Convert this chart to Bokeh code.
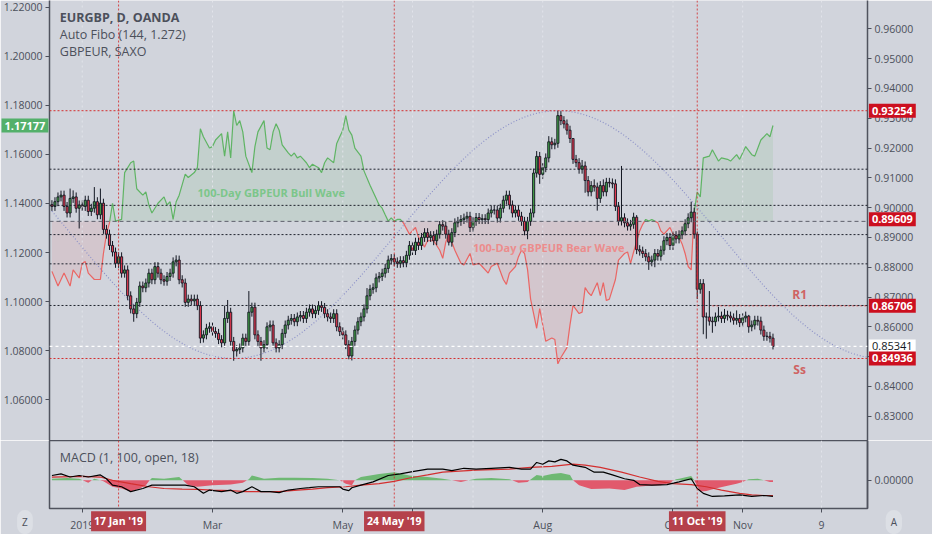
import numpy as np
import pandas as pd
from bokeh.plotting import figure
from bokeh.models import (Range1d, LinearAxis, FixedTicker, NumeralTickFormatter,
                          Span, Label, ColumnDataSource)
from bokeh.layouts import column
from bokeh.embed import file_html
from bokeh.resources import INLINE

# ---------------- data ----------------
FIRST_DAY = "2018-12-18"
CAL_END = "2019-12-31"

# EURGBP daily closes, one per business day from FIRST_DAY
CLOSE = [
    0.9004, 0.9020, 0.9036, 0.9042, 0.9004, 0.8982, 0.9031, 0.9036, 0.8998, 0.9009,
    0.9004, 0.9025, 0.8987, 0.8998, 0.9020, 0.8976, 0.9015, 0.8927, 0.8911, 0.8873,
    0.8851, 0.8813, 0.8835, 0.8780, 0.8791, 0.8704, 0.8660, 0.8644, 0.8682, 0.8737,
    0.8731, 0.8747, 0.8780, 0.8758, 0.8802, 0.8780, 0.8758, 0.8753, 0.8769, 0.8780,
    0.8818, 0.8824, 0.8758, 0.8747, 0.8682, 0.8693, 0.8687, 0.8693, 0.8671, 0.8562,
    0.8573, 0.8595, 0.8600, 0.8584, 0.8578, 0.8557, 0.8546, 0.8628, 0.8649, 0.8551,
    0.8519, 0.8524, 0.8529, 0.8562, 0.8551, 0.8649, 0.8666, 0.8573, 0.8551, 0.8529,
    0.8540, 0.8600, 0.8606, 0.8546, 0.8529, 0.8540, 0.8578, 0.8606, 0.8622, 0.8628,
    0.8617, 0.8633, 0.8638, 0.8628, 0.8649, 0.8660, 0.8644, 0.8655, 0.8671, 0.8665,
    0.8644, 0.8633, 0.8628, 0.8644, 0.8600, 0.8584, 0.8573, 0.8540, 0.8502, 0.8551,
    0.8589, 0.8617, 0.8633, 0.8660, 0.8704, 0.8726, 0.8731, 0.8764, 0.8769, 0.8780,
    0.8796, 0.8824, 0.8829, 0.8818, 0.8813, 0.8822, 0.8815, 0.8840, 0.8873, 0.8856,
    0.8884, 0.8873, 0.8900, 0.8916, 0.8900, 0.8906, 0.8889, 0.8911, 0.8943, 0.8938,
    0.8911, 0.8884, 0.8916, 0.8949, 0.8954, 0.8960, 0.8965, 0.8971, 0.8933, 0.8954,
    0.8967, 0.8960, 0.8963, 0.8960, 0.8982, 0.8992, 0.8992, 0.8965, 0.8998, 0.9025,
    0.9042, 0.9009, 0.8982, 0.8992, 0.8971, 0.8954, 0.8922, 0.8954, 0.8982, 0.9116,
    0.9172, 0.9112, 0.9134, 0.9167, 0.9221, 0.9211, 0.9216, 0.9309, 0.9292, 0.9281,
    0.9260, 0.9232, 0.9162, 0.9151, 0.9129, 0.9140, 0.9091, 0.9053, 0.9074, 0.9069,
    0.9031, 0.9074, 0.9053, 0.9085, 0.9083, 0.9080, 0.9004, 0.8955, 0.8966, 0.8949,
    0.8938, 0.8944, 0.8968, 0.8859, 0.8854, 0.8846, 0.8835, 0.8818, 0.8824, 0.8846,
    0.8837, 0.8857, 0.8889, 0.8900, 0.8873, 0.8906, 0.8895, 0.8909, 0.8922, 0.8946,
    0.8966, 0.8985, 0.8911, 0.8726, 0.8745, 0.8633, 0.8633, 0.8619, 0.8617, 0.8633,
    0.8636, 0.8628, 0.8639, 0.8636, 0.8630, 0.8622, 0.8628, 0.8614, 0.8630, 0.8636,
    0.8600, 0.8606, 0.8622, 0.8619, 0.8589, 0.8568, 0.8568, 0.8562, 0.8534,
]
FIRST_OPEN = 0.9010
WICK = 0.0015  # typical wick length where no long wick is visible
HIGH_OVERRIDE = {6: 0.9064, 7: 0.9058, 14: 0.9069, 16: 0.9064, 41: 0.8840, 57: 0.8671,
                 58: 0.8690, 65: 0.8720, 104: 0.8730, 128: 0.8955, 160: 0.9190,
                 164: 0.9240, 167: 0.9325, 172: 0.9185, 175: 0.9160, 179: 0.9095,
                 182: 0.9095, 188: 0.9140, 193: 0.8975, 211: 0.9020, 213: 0.8920,
                 215: 0.8760, 217: 0.8720, 220: 0.8667, 222: 0.8660, 226: 0.8655,
                 230: 0.8640}
LOW_OVERRIDE = {9: 0.8930, 27: 0.8617, 49: 0.8545, 60: 0.8486, 61: 0.8500, 69: 0.8486,
                98: 0.8491, 131: 0.8873, 157: 0.8894, 161: 0.9080, 176: 0.9050,
                180: 0.8990, 197: 0.8791, 199: 0.8800, 213: 0.8693, 215: 0.8575,
                216: 0.8560, 218: 0.8580, 230: 0.8580, 238: 0.8524}

# 100-day GBPEUR wave (left scale): (bar, value)
GBPEUR = [
    (0, 1.1123), (2, 1.1063), (4, 1.1116), (6, 1.1063), (7, 1.1129), (9, 1.1096),
    (10, 1.1156), (11, 1.1163), (12, 1.1116), (14, 1.1090), (16, 1.1090), (17, 1.1196),
    (18, 1.1275), (19, 1.1321), (20, 1.1401), (21, 1.1328), (23, 1.1335), (24, 1.1526),
    (26, 1.1566), (27, 1.1573), (28, 1.1460), (30, 1.1434), (31, 1.1447), (32, 1.1394),
    (33, 1.1361), (35, 1.1401), (37, 1.1427), (38, 1.1394), (39, 1.1407), (40, 1.1335),
    (41, 1.1407), (42, 1.1434), (44, 1.1520), (45, 1.1506), (47, 1.1526), (48, 1.1546),
    (49, 1.1705), (50, 1.1672), (52, 1.1626), (53, 1.1632), (54, 1.1659), (56, 1.1685),
    (57, 1.1593), (58, 1.1692), (59, 1.1586), (60, 1.1778), (61, 1.1718), (62, 1.1738),
    (63, 1.1692), (64, 1.1593), (66, 1.1526), (67, 1.1632), (68, 1.1692), (70, 1.1738),
    (71, 1.1626), (72, 1.1619), (73, 1.1692), (74, 1.1725), (75, 1.1699), (76, 1.1639),
    (78, 1.1606), (79, 1.1593), (80, 1.1606), (81, 1.1586), (82, 1.1593), (83, 1.1580),
    (84, 1.1566), (85, 1.1546), (86, 1.1560), (88, 1.1546), (89, 1.1526), (90, 1.1566),
    (91, 1.1586), (93, 1.1566), (94, 1.1645), (95, 1.1672), (96, 1.1699), (97, 1.1758),
    (98, 1.1699), (99, 1.1679), (100, 1.1626), (102, 1.1593), (103, 1.1533), (105, 1.1474),
    (107, 1.1421), (108, 1.1394), (109, 1.1381), (110, 1.1354), (111, 1.1328), (112, 1.1341),
    (113, 1.1328), (114, 1.1335), (115, 1.1335), (116, 1.1321), (118, 1.1275), (120, 1.1302),
    (121, 1.1262), (123, 1.1222), (124, 1.1248), (126, 1.1248), (128, 1.1209), (129, 1.1176),
    (130, 1.1242), (131, 1.1275), (133, 1.1209), (135, 1.1156), (136, 1.1149), (138, 1.1196),
    (139, 1.1149), (141, 1.1156), (142, 1.1143), (144, 1.1116), (145, 1.1143), (147, 1.1156),
    (149, 1.1090), (150, 1.1070), (151, 1.1116), (153, 1.1143), (154, 1.1183), (155, 1.1209),
    (156, 1.1196), (157, 1.1129), (158, 1.1010), (160, 1.0891), (161, 1.0971), (162, 1.0905),
    (163, 1.0838), (165, 1.0851), (166, 1.0845), (167, 1.0746), (168, 1.0772), (170, 1.0812),
    (171, 1.0905), (172, 1.0984), (174, 1.0951), (175, 1.0957), (176, 1.1057), (177, 1.1037),
    (178, 1.1024), (180, 1.1077), (181, 1.1024), (182, 1.1077), (183, 1.1004), (184, 1.1010),
    (186, 1.1090), (187, 1.1169), (189, 1.1196), (190, 1.1202), (191, 1.1156), (192, 1.1202),
    (194, 1.1288), (195, 1.1315), (196, 1.1335), (197, 1.1328), (198, 1.1335), (200, 1.1321),
    (201, 1.1288), (202, 1.1275), (204, 1.1302), (205, 1.1275), (207, 1.1262), (208, 1.1235),
    (209, 1.1196), (210, 1.1143), (211, 1.1129), (212, 1.1368), (213, 1.1447), (214, 1.1427),
    (215, 1.1586), (217, 1.1593), (218, 1.1619), (220, 1.1573), (221, 1.1586), (223, 1.1580),
    (224, 1.1573), (226, 1.1599), (227, 1.1580), (229, 1.1632), (231, 1.1599), (232, 1.1593),
    (234, 1.1659), (236, 1.1685), (237, 1.1672), (238, 1.1718),
]
GBPEUR_BASE = 1.1327
GBPEUR_LAST = 1.17177

FIB_HIGH = 0.93254
FIB_LOW = 0.84936
FIB_RATIOS = [0.236, 0.382, 0.5, 0.618, 0.786]
R1_LEVEL = 0.86706
R1_FROM = "2019-10-18"
MARK_PRICE = 0.89609
LAST_PRICE = 0.85341
SINE_TROUGH = ("2019-03-12", FIB_LOW)
SINE_PEAK = ("2019-08-08", FIB_HIGH)

# MACD (1, 100, open, 18): (bar, value)
MACD_LINE = [
    (0, 0.0025), (3, 0.0033), (6, 0.0017), (9, 0.0025), (12, 0.0017), (16, 0.0028),
    (18, 0.0008), (20, -0.0025), (23, -0.0033), (26, -0.0058), (30, -0.0042), (33, -0.0025),
    (36, -0.0025), (39, -0.0025), (44, -0.0025), (47, -0.0033), (50, -0.0067), (52, -0.0050),
    (56, -0.0058), (59, -0.0050), (61, -0.0067), (63, -0.0058), (66, -0.0033), (69, -0.0058),
    (72, -0.0058), (75, -0.0063), (78, -0.0050), (82, -0.0042), (85, -0.0038), (88, -0.0033),
    (91, -0.0033), (95, -0.0033), (96, -0.0045), (98, -0.0053), (99, -0.0038), (102, -0.0025),
    (106, -0.0008), (111, 0.0025), (115, 0.0033), (119, 0.0045), (124, 0.0058), (129, 0.0058),
    (132, 0.0050), (136, 0.0062), (140, 0.0058), (145, 0.0062), (151, 0.0067), (155, 0.0058),
    (158, 0.0058), (160, 0.0092), (162, 0.0083), (164, 0.0100), (166, 0.0095), (168, 0.0108),
    (170, 0.0100), (172, 0.0078), (176, 0.0067), (179, 0.0042), (182, 0.0042), (185, 0.0028),
    (189, 0.0008), (192, 0.0000), (194, -0.0022), (198, -0.0025), (203, -0.0022),
    (207, -0.0008), (211, 0.0008), (213, -0.0042), (215, -0.0067), (218, -0.0083),
    (222, -0.0080), (227, -0.0075), (231, -0.0083), (235, -0.0078), (238, -0.0083),
]
MACD_SIGNAL = [
    (0, 0.0017), (10, 0.0020), (16, 0.0017), (20, 0.0000), (26, -0.0017), (32, -0.0033),
    (37, -0.0042), (43, -0.0045), (48, -0.0047), (53, -0.0050), (59, -0.0053), (64, -0.0058),
    (70, -0.0058), (75, -0.0058), (81, -0.0050), (86, -0.0045), (91, -0.0038), (97, -0.0033),
    (102, -0.0025), (108, -0.0017), (113, -0.0005), (118, 0.0012), (124, 0.0028),
    (129, 0.0042), (140, 0.0053), (151, 0.0058), (158, 0.0067), (165, 0.0072), (172, 0.0083),
    (176, 0.0078), (181, 0.0067), (188, 0.0042), (194, 0.0017), (200, -0.0005),
    (205, -0.0017), (211, -0.0022), (216, -0.0033), (221, -0.0050), (227, -0.0067),
    (231, -0.0075), (235, -0.0078), (238, -0.0078),
]
MACD_HIST = [
    (0, 0.0008), (5, 0.0012), (9, 0.0008), (12, -0.0013), (14, 0.0008), (17, -0.0005),
    (20, -0.0033), (23, -0.0042), (26, -0.0058), (29, -0.0042), (31, -0.0025), (32, -0.0005),
    (33, 0.0012), (37, 0.0008), (42, 0.0017), (43, 0.0003), (45, -0.0025), (48, -0.0033),
    (53, -0.0025), (59, -0.0022), (63, -0.0012), (65, 0.0005), (66, 0.0025), (70, 0.0008),
    (75, 0.0013), (80, 0.0013), (86, 0.0012), (91, 0.0008), (95, 0.0000), (97, -0.0017),
    (99, -0.0025), (100, 0.0000), (102, 0.0017), (108, 0.0033), (113, 0.0042), (118, 0.0025),
    (124, 0.0017), (129, 0.0008), (135, -0.0008), (140, 0.0008), (145, 0.0012), (151, 0.0005),
    (154, -0.0012), (157, -0.0008), (160, 0.0028), (162, 0.0022), (165, 0.0033),
    (168, 0.0038), (171, 0.0028), (172, 0.0000), (174, -0.0025), (178, -0.0045),
    (184, -0.0042), (189, -0.0050), (193, -0.0033), (197, -0.0028), (201, -0.0025),
    (204, -0.0012), (206, 0.0005), (207, 0.0008), (211, 0.0022), (212, 0.0000),
    (214, -0.0058), (216, -0.0055), (219, -0.0042), (223, -0.0028), (226, -0.0017),
    (228, -0.0008), (230, 0.0005), (233, 0.0008), (237, -0.0008), (238, -0.0008),
]

RIGHT_TICKS = [0.83, 0.84, 0.85, 0.86, 0.87, 0.88, 0.89, 0.90, 0.91, 0.92, 0.93, 0.94, 0.95, 0.96]
LEFT_TICKS = [1.06, 1.08, 1.10, 1.12, 1.14, 1.16, 1.18, 1.20, 1.22]
TIME_TICKS = [("2019-01-01", "2019"), ("2019-03-01", "Mar"), ("2019-05-01", "May"),
              ("2019-06-03", "Jun"), ("2019-08-01", "Aug"), ("2019-10-01", "Oct"),
              ("2019-11-01", "Nov"), ("2019-12-09", "9")]
GRID_DATES = ["2019-01-01", "2019-03-01", "2019-05-01", "2019-06-03", "2019-07-01",
              "2019-08-01", "2019-10-01", "2019-11-01", "2019-12-09"]
MARKERS = [("2019-01-17", "17 Jan '19"), ("2019-05-24", "24 May '19"), ("2019-10-11", "11 Oct '19")]

# ---------------- styling ----------------
BG = "#d1d4dc"
TXT = "#4c505b"
AXC = "#50535e"
UP = "#43a047"
DN = "#e53950"
FONT = "Open Sans"

cal = pd.bdate_range(FIRST_DAY, CAL_END)
pos = {d.strftime("%Y-%m-%d"): i for i, d in enumerate(cal)}

n = len(CLOSE)
xs = np.arange(n)
close = np.array(CLOSE)
opn = np.concatenate([[FIRST_OPEN], close[:-1]])
hi = np.maximum(opn, close) + WICK
lo = np.minimum(opn, close) - WICK
for k, v in HIGH_OVERRIDE.items():
    hi[k] = max(v, max(opn[k], close[k]))
for k, v in LOW_OVERRIDE.items():
    lo[k] = min(v, min(opn[k], close[k]))
cs = ColumnDataSource(dict(x=xs, top=np.maximum(opn, close), bottom=np.minimum(opn, close),
                           hi=hi, lo=lo, color=[UP if c >= o else DN for o, c in zip(opn, close)]))

XR = Range1d(-0.8, 269.2)


def split_by_base(px, py, base):
    up, dn = [], []
    cx, cy = [px[0]], [py[0]]
    cur = py[0] >= base
    for i in range(1, len(px)):
        x0, y0, x1, y1 = px[i - 1], py[i - 1], px[i], py[i]
        now = y1 >= base
        if now != cur:
            xc = x0 + (base - y0) * (x1 - x0) / (y1 - y0)
            cx.append(xc); cy.append(base)
            (up if cur else dn).append((cx, cy))
            cx, cy, cur = [xc], [base], now
        cx.append(x1); cy.append(y1)
    (up if cur else dn).append((cx, cy))
    return up, dn


def style_axis(ax, ticks, fmt="0.00000"):
    ax.ticker = FixedTicker(ticks=ticks)
    ax.formatter = NumeralTickFormatter(format=fmt)
    ax.major_label_text_font = FONT
    ax.major_label_text_font_size = "10.5px"
    ax.major_label_text_color = TXT
    ax.major_tick_line_color = TXT
    ax.major_tick_out = 4
    ax.major_tick_in = 0
    ax.minor_tick_line_color = None
    ax.axis_line_color = AXC
    ax.axis_line_width = 1.5
    ax.major_label_standoff = 3


def outside_label(fig, **kw):
    # labels that sit on the axes: put into a side panel so they are not clipped
    fig.add_layout(Label(text_font=FONT, text_align="center", text_baseline="middle", **kw),
                   "right")


# ---------------- main pane ----------------
p = figure(frame_width=818, frame_height=440, x_range=XR, y_range=Range1d(0.82183, 0.96954),
           y_axis_location="right", x_axis_location=None, output_backend="svg",
           toolbar_location=None, min_border_left=48, min_border_right=50,
           min_border_top=0, min_border_bottom=0, background_fill_color=BG,
           border_fill_color=BG, outline_line_color=None)
p.grid.visible = False
p.extra_y_ranges = {"gbp": Range1d(1.04333, 1.22278)}
style_axis(p.yaxis[0], RIGHT_TICKS)
lax = LinearAxis(y_range_name="gbp")
style_axis(lax, LEFT_TICKS)
p.add_layout(lax, "left")

for d in GRID_DATES:
    p.add_layout(Span(location=pos[d], dimension="height", line_color="#e4e6ec",
                      line_dash="2 3", line_width=1, line_alpha=0.9))

# GBPEUR baseline wave
gx = [b for b, _ in GBPEUR]
gy = [v for _, v in GBPEUR]
up, dn = split_by_base(gx, gy, GBPEUR_BASE)
for segs, col in ((up, "#4caf50"), (dn, "#ef5350")):
    p.patches(xs=[sx + [sx[-1], sx[0]] for sx, sy in segs],
              ys=[sy + [GBPEUR_BASE, GBPEUR_BASE] for sx, sy in segs],
              fill_color=col, fill_alpha=0.10, line_color=None, y_range_name="gbp")

# fib levels
for r in FIB_RATIOS:
    p.add_layout(Span(location=FIB_HIGH - r * (FIB_HIGH - FIB_LOW), dimension="width",
                      line_color="#1e222d", line_dash="2 2", line_width=1))
for lv in (FIB_HIGH, FIB_LOW):
    p.add_layout(Span(location=lv, dimension="width", line_color="#d32f2f",
                      line_dash="2 2", line_width=1))
p.segment(x0=[pos[R1_FROM]], y0=[R1_LEVEL], x1=[XR.end], y1=[R1_LEVEL],
          line_color="#d32f2f", line_dash="2 2", line_width=1)
p.add_layout(Span(location=GBPEUR_BASE, dimension="width", y_range_name="gbp",
                  line_color="#5d606b", line_dash="4 3", line_width=1))
p.add_layout(Span(location=LAST_PRICE, dimension="width", line_color="#ffffff",
                  line_dash="3 3", line_width=1.2))

# sine line drawing through trough and peak anchors
t0, t1 = pos[SINE_TROUGH[0]], pos[SINE_PEAK[0]]
sx = np.linspace(0, XR.end, 400)
mid = (SINE_PEAK[1] + SINE_TROUGH[1]) / 2
amp = (SINE_PEAK[1] - SINE_TROUGH[1]) / 2
p.line(sx, mid - amp * np.cos(np.pi * (sx - t0) / (t1 - t0)), line_color="#8d92c8",
       line_dash="1 2", line_width=1.2)

for d, _ in MARKERS:
    p.add_layout(Span(location=pos[d], dimension="height", line_color="#d32f2f",
                      line_dash="2 2", line_width=1, line_alpha=0.85))

p.multi_line(xs=[s[0] for s in up], ys=[s[1] for s in up], line_color="#4caf50",
             line_width=1.2, line_alpha=0.85, y_range_name="gbp")
p.multi_line(xs=[s[0] for s in dn], ys=[s[1] for s in dn], line_color="#ef5350",
             line_width=1.2, line_alpha=0.85, y_range_name="gbp")

# candles
p.segment(x0="x", y0="lo", x1="x", y1="hi", source=cs, line_color="#131722", line_width=1)
p.vbar(x="x", width=0.7, top="top", bottom="bottom", source=cs, fill_color="color",
       line_color="#131722", line_width=0.9)

# texts
for i, (t, bold) in enumerate((("EURGBP, D, OANDA", True), ("Auto Fibo (144, 1.272)", False),
                                ("GBPEUR, SAXO", False))):
    p.add_layout(Label(x=2.6, y=0.96399 - i * 0.00572, text=t, text_font=FONT,
                       text_font_size="12.5px", text_color=TXT, text_baseline="middle",
                       text_font_style="bold" if bold else "normal"))
p.add_layout(Label(x=72.4, y=0.90516, text="100-Day GBPEUR Bull Wave", text_font=FONT,
                   text_font_size="11px", text_font_style="bold", text_color="#7cc68a",
                   text_align="center", text_baseline="middle"))
p.add_layout(Label(x=164.0, y=0.88654, text="100-Day GBPEUR Bear Wave", text_font=FONT,
                   text_font_size="11px", text_font_style="bold", text_color="#ec8c8c",
                   text_align="center", text_baseline="middle"))
p.add_layout(Label(x=246.8, y=R1_LEVEL, y_offset=3, text="R1", text_font=FONT,
                   text_font_size="12px", text_font_style="bold", text_color="#cf6363",
                   text_align="center", text_baseline="bottom"))
p.add_layout(Label(x=246.8, y=FIB_LOW, y_offset=-3, text="Ss", text_font=FONT,
                   text_font_size="12px", text_font_style="bold", text_color="#cf6363",
                   text_align="center", text_baseline="top"))

# price tags on the axes
TAG_X = 277.4
for val, bg, fg in ((FIB_HIGH, "#cc0f1f", "white"), (MARK_PRICE, "#cc0f1f", "white"),
                    (R1_LEVEL, "#cc0f1f", "white"), (LAST_PRICE, "#ffffff", "#131722"),
                    (FIB_LOW, "#cc0f1f", "white")):
    outside_label(p, x=TAG_X, y=val, text=f"{val:.5f}", text_font_size="11px",
                  text_color=fg, background_fill_color=bg, padding=3,
                  text_font_style="bold" if fg == "white" else "normal")
outside_label(p, x=-8.9, y=GBPEUR_LAST, y_range_name="gbp", text=f"{GBPEUR_LAST:.5f}",
              text_font_size="11px", text_color="white", text_font_style="bold",
              background_fill_color="#53b06a", padding=3)

# ---------------- MACD pane ----------------
m = figure(frame_width=818, frame_height=68, x_range=XR, y_range=Range1d(-0.0145, 0.0205),
           y_axis_location="right", output_backend="svg", toolbar_location=None,
           min_border_left=48, min_border_right=50, min_border_top=0, min_border_bottom=26,
           background_fill_color=BG, border_fill_color=BG, outline_line_color=AXC,
           outline_line_width=1.5)
m.grid.visible = False
style_axis(m.yaxis[0], [0.0])
xa = m.xaxis[0]
xa.ticker = FixedTicker(ticks=[pos[d] for d, _ in TIME_TICKS])
xa.major_label_overrides = {pos[d]: lab for d, lab in TIME_TICKS}
xa.major_label_text_font = FONT
xa.major_label_text_font_size = "10.5px"
xa.major_label_text_color = TXT
xa.major_tick_line_color = TXT
xa.major_tick_out = 4
xa.major_tick_in = 0
xa.minor_tick_line_color = None
xa.axis_line_color = None
xa.major_label_standoff = 5

for d in GRID_DATES:
    m.add_layout(Span(location=pos[d], dimension="height", line_color="#e4e6ec",
                      line_dash="2 3", line_width=1, line_alpha=0.9))
for d, _ in MARKERS:
    m.add_layout(Span(location=pos[d], dimension="height", line_color="#d32f2f",
                      line_dash="2 2", line_width=1, line_alpha=0.85))

hx = [b for b, _ in MACD_HIST]
hy = [v for _, v in MACD_HIST]
hup, hdn = split_by_base(hx, hy, 0.0)
for segs, col, al in ((hup, "#4caf50", 0.75), (hdn, "#e53950", 0.8)):
    m.patches(xs=[sx_ + [sx_[-1], sx_[0]] for sx_, sy_ in segs],
              ys=[sy_ + [0.0, 0.0] for sx_, sy_ in segs],
              fill_color=col, fill_alpha=al, line_color=None)
m.line([b for b, _ in MACD_SIGNAL], [v for _, v in MACD_SIGNAL], line_color="#d32f2f",
       line_width=1.2)
m.line([b for b, _ in MACD_LINE], [v for _, v in MACD_LINE], line_color="#000000",
       line_width=1.2)
m.add_layout(Label(x=2.6, y=0.0115, text="MACD (1, 100, open, 18)", text_font=FONT,
                   text_font_size="12.5px", text_color=TXT, text_baseline="middle"))

for d, lab in MARKERS:
    outside_label(m, x=pos[d], y=-0.021, text=lab, text_font_size="10.5px",
                  text_font_style="bold", text_color="white",
                  background_fill_color="#b5414b", padding=3)
for xx, t in ((-8.9, "Z"), (TAG_X + 0.5, "A")):
    outside_label(m, x=xx, y=-0.0215, text=t, text_font_size="10px", text_color=TXT,
                  background_fill_color="#dcdfe5", padding=5, border_radius=10)

layout = column(p, m, spacing=0)
open("out.html", "w").write(file_html(layout, INLINE))
